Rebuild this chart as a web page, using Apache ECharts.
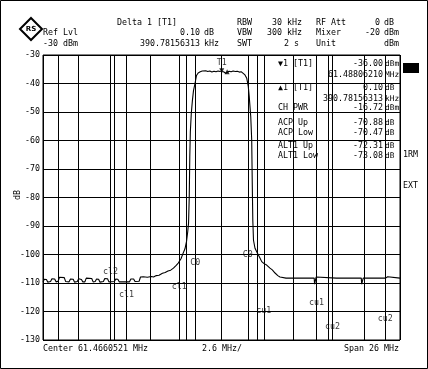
<!DOCTYPE html>
<html><head><meta charset="utf-8">
<script src="https://cdn.jsdelivr.net/npm/echarts@6/dist/echarts.min.js"></script>
<style>html,body{margin:0;padding:0;background:#fff}#c{width:428px;height:369px}</style>
</head><body><div id="c"></div>
<script>
// ---- data ----
const yTicks = [-30,-40,-50,-60,-70,-80,-90,-100,-110,-120,-130];
// frequency offset from center (MHz), level (dBm)
const trace = [
[-13.00,-109.6],[-12.90,-108.7],[-12.75,-108.8],[-12.65,-109.7],[-12.45,-109.5],[-12.35,-108.5],[-12.15,-108.6],[-12.05,-109.6],
[-11.90,-109.4],[-11.80,-108.0],[-11.45,-108.1],[-11.35,-109.5],[-11.10,-109.6],[-11.00,-108.6],[-10.80,-108.7],[-10.70,-109.7],
[-10.50,-109.5],[-10.40,-108.5],[-10.20,-108.8],[-10.10,-109.6],[-9.95,-109.6],[-9.85,-108.3],[-9.45,-108.4],[-9.35,-109.6],
[-9.20,-109.5],[-9.10,-108.6],[-8.95,-108.7],[-8.85,-109.7],[-8.60,-109.5],[-8.50,-108.4],[-8.30,-108.5],[-8.20,-109.6],
[-7.80,-109.5],[-7.70,-108.6],[-7.55,-108.7],[-7.45,-109.6],[-7.20,-109.6],[-7.10,-108.9],[-7.00,-109.6],[-6.70,-109.6],
[-6.60,-108.6],[-6.40,-108.6],[-6.30,-109.5],[-6.00,-109.4],[-5.90,-107.9],[-5.70,-107.8],[-5.40,-108.0],[-5.10,-107.7],
[-4.95,-107.9],[-4.75,-107.4],[-4.55,-107.3],[-4.30,-106.6],[-4.10,-106.3],[-3.90,-105.8],[-3.70,-105.5],[-3.50,-104.8],
[-3.30,-103.8],[-3.15,-103.0],[-2.95,-101.5],[-2.80,-99.6],[-2.66,-98.0],[-2.55,-95.5],[-2.46,-92.0],[-2.40,-89.0],
[-2.35,-80.0],[-2.31,-66.0],[-2.27,-57.0],[-2.20,-50.5],[-2.12,-46.0],[-2.04,-42.5],[-1.93,-40.0],[-1.82,-37.2],
[-1.70,-36.3],[-1.55,-35.9],[-1.40,-35.6],[-1.30,-35.9],[-1.15,-35.5],[-1.00,-35.8],[-0.85,-35.6],[-0.70,-36.0],
[-0.55,-35.7],[-0.40,-35.9],[-0.25,-35.6],[-0.10,-35.8],[0.00,-35.5],[0.05,-35.5],[0.15,-35.9],[0.30,-36.4],
[0.40,-36.0],[0.55,-35.7],[0.70,-35.9],[0.85,-35.6],[1.00,-35.8],[1.15,-35.7],[1.30,-36.0],[1.45,-35.9],
[1.57,-36.4],[1.71,-37.0],[1.84,-38.2],[1.95,-41.0],[2.02,-44.6],[2.13,-51.6],[2.20,-59.8],[2.24,-75.0],
[2.28,-88.0],[2.33,-95.0],[2.44,-97.8],[2.61,-99.5],[2.80,-101.2],[2.93,-102.5],[3.10,-103.2],[3.29,-103.7],
[3.53,-104.8],[3.70,-105.4],[3.90,-106.5],[4.10,-107.4],[4.26,-107.9],[4.40,-108.3],[4.70,-108.3],[4.72,-107.7],
[4.80,-107.7],[4.82,-108.3],[5.45,-108.3],[5.47,-107.6],[5.52,-108.3],[5.92,-108.3],[5.94,-107.6],[5.98,-108.3],
[6.28,-108.3],[6.30,-107.7],[6.34,-108.3],[6.75,-108.3],[6.78,-110.4],[6.86,-110.4],[6.89,-107.9],[6.98,-107.9],
[7.00,-108.3],[8.37,-108.3],[8.39,-107.7],[8.43,-108.3],[8.73,-108.3],[8.75,-107.7],[8.79,-108.3],[9.70,-108.3],
[9.72,-107.6],[9.76,-108.3],[10.18,-108.3],[10.21,-110.4],[10.29,-110.4],[10.32,-108.3],[10.78,-108.3],[10.80,-107.7],
[10.84,-108.3],[11.16,-108.3],[11.18,-107.7],[11.22,-108.3],[11.95,-108.3],[11.98,-107.8],[12.10,-107.8],[12.12,-108.3],
[13.00,-108.3]
];
const channelEdges = [-11.92,-8.08,-6.92,-3.08,-1.92,1.92,3.08,6.92,8.08,11.92];
const channelNames = ['cl2','cl2','cl1','cl1','C0','C0','cu1','cu1','cu2','cu2'];
const channelLabelLevel = [null,-106.1,-114.2,-111.4,-103.0,-100.2,-119.8,-117.0,-125.4,-122.6];
const marker1 = [0.02,-35.5];
const deltaMarker = [0.41,-35.9];
const tableLabels = ['\u25BC1 [T1]','','\u25B21 [T1]','','CH PWR','ACP Up','ACP Low','ALT1 Up','ALT1 Low'];
const tableValues = ['-36.00','61.48806210','0.10','390.78156313','-16.72','-70.88','-70.47','-72.31','-73.08'];
const tableUnits = ['dBm','MHz','dB','kHz','dBm','dB','dB','dB','dB'];

// ---- chart ----
const FF = "'DejaVu Sans Mono', monospace";
const FS = 8.3;
function T(text, x, y, align, fs) {
  return {type:'text', silent:true, style:{text, x, y, fill:'#000', fontFamily:FF, fontSize:fs||FS, align:align||'left', verticalAlign:'middle'}};
}
const tableY = [64,75,88,99,108,123,133,146,156];
const graphics = [
  {type:'rect', shape:{x:0.5,y:0.5,width:427,height:368}, style:{fill:'none', stroke:'#000', lineWidth:1}, silent:true},
  {type:'polygon', shape:{points:[[31,18],[42,29],[31,40],[20,29]]}, style:{fill:'#fff', stroke:'#000', lineWidth:2}, silent:true},
  {type:'text', silent:true, style:{text:'RS', x:31, y:29, fill:'#000', fontFamily:'DejaVu Sans', fontWeight:'bold', fontSize:7, align:'center', verticalAlign:'middle'}},
  T('Delta 1 [T1]',117,23),
  T('Ref Lvl',43,33), T('0.10',200,33,'right'), T('dB',204,33),
  T('-30 dBm',43,44), T('390.78156313',200,44,'right'), T('kHz',204,44),
  T('RBW',237,23), T('30 kHz',302,23,'right'), T('RF Att',316,23), T('0',380,23,'right'), T('dB',384,23),
  T('VBW',237,33), T('300 kHz',302,33,'right'), T('Mixer',316,33), T('-20',380,33,'right'), T('dBm',384,33),
  T('SWT',237,44), T('2 s',299,44,'right'), T('Unit',316,44), T('dBm',384,44),
  T('Center 61.4660521 MHz',43,349), T('2.6 MHz/',202,349), T('Span 26 MHz',399,349,'right'),
  {type:'rect', shape:{x:403,y:63,width:16,height:10}, style:{fill:'#000'}, silent:true},
  T('1RM',403,155), T('EXT',403,186),
  {type:'text', silent:true, x:18, y:195, rotation:Math.PI/2, style:{text:'dB', x:0, y:0, fill:'#000', fontFamily:FF, fontSize:FS, align:'center', verticalAlign:'middle'}}
];
tableLabels.forEach((t,i)=>{
  if (t) graphics.push(T(t,278,tableY[i]));
  graphics.push(T(tableValues[i],383,tableY[i],'right'));
  graphics.push(T(tableUnits[i],385,tableY[i],'left',7.8));
});

const labelData = [];
channelEdges.forEach((e,i)=>{ if (channelLabelLevel[i]!==null) labelData.push({value:[e,channelLabelLevel[i]], name:channelNames[i]}); });

const chart = echarts.init(document.getElementById('c'), null, {renderer:'canvas'});
chart.setOption({
  animation:false,
  backgroundColor:'#fff',
  grid:{left:43, top:55, width:357, height:285, show:true, borderColor:'#000', borderWidth:1},
  xAxis:{type:'value', min:-13, max:13, interval:2.6,
    axisLine:{show:false}, axisTick:{show:false}, axisLabel:{show:false},
    splitLine:{show:true, lineStyle:{color:'#000', width:1}}},
  yAxis:{type:'value', min:-130, max:-30, interval:10,
    axisLine:{show:false}, axisTick:{show:false},
    axisLabel:{show:true, color:'#000', fontFamily:FF, fontSize:FS, margin:3, customValues: yTicks},
    splitLine:{show:true, lineStyle:{color:'#000', width:1}}},
  graphic:{elements:graphics},
  series:[
    {type:'line', data:trace, showSymbol:false, symbol:'none', lineStyle:{color:'#000', width:1.1}, silent:true,
     markLine:{silent:true, symbol:['none','none'], label:{show:false}, lineStyle:{color:'#000', width:1, type:'solid'},
       data: channelEdges.map(e=>({xAxis:e}))}},
    {type:'scatter', data:labelData, symbolSize:0, silent:true,
     label:{show:true, position:'inside', formatter:p=>p.name, color:'#000', fontFamily:FF, fontSize:FS}},
    {type:'scatter', data:[{value:marker1, name:'T1'}], symbol:'triangle', symbolRotate:180, symbolSize:5, silent:true,
     itemStyle:{color:'#000'}, label:{show:true, position:'top', distance:1, formatter:'T1', color:'#000', fontFamily:FF, fontSize:FS}},
    {type:'scatter', data:[deltaMarker], symbol:'triangle', symbolSize:5, silent:true, itemStyle:{color:'#000'}}
  ]
});
</script></body></html>
